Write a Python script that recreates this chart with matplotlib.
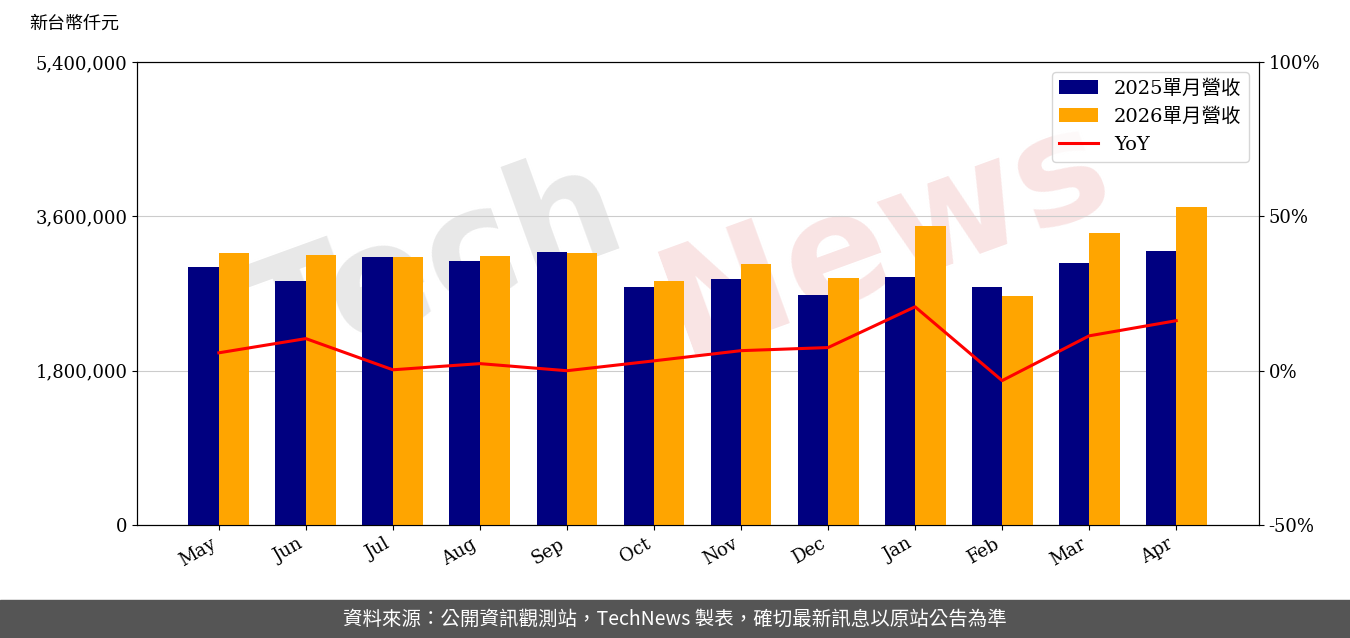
import numpy as np
import matplotlib.pyplot as plt

plt.rcParams['font.family'] = ['DejaVu Serif', 'Noto Sans CJK TC']

months = ['May', 'Jun', 'Jul', 'Aug', 'Sep', 'Oct', 'Nov', 'Dec', 'Jan', 'Feb', 'Mar', 'Apr']
rev_2025 = [3009000, 2846000, 3126000, 3079000, 3184000, 2776000, 2869000, 2682000, 2892000, 2776000, 3056000, 3196000]
rev_2026 = [3172000, 3149000, 3126000, 3137000, 3172000, 2846000, 3044000, 2881000, 3487000, 2671000, 3406000, 3709000]
yoy = [5.8, 10.4, 0.3, 2.3, 0.0, 3.2, 6.5, 7.5, 20.7, -3.2, 11.3, 16.2]

fig = plt.figure(figsize=(13.5, 6.38), dpi=100)
ax = fig.add_axes([0.1015, 0.177, 0.831, 0.7258])
x = np.arange(len(months))
w = 0.35
# watermark behind the bars
ax.text(0.45, 0.55, 'Tech', transform=ax.transAxes, fontsize=110, color='#e8e8e8',
        rotation=20, ha='right', va='center', family='DejaVu Sans', weight='bold', zorder=1)
ax.text(0.45, 0.62, 'News', transform=ax.transAxes, fontsize=110, color='#f9e4e4',
        rotation=20, ha='left', va='center', family='DejaVu Sans', weight='bold', zorder=1)
b1 = ax.bar(x - w / 2, rev_2025, w, color='#000080', label='2025單月營收', zorder=3)
b2 = ax.bar(x + w / 2, rev_2026, w, color='#FFA500', label='2026單月營收', zorder=3)
ax.set_ylim(0, 5400000)
ax.set_yticks([0, 1800000, 3600000, 5400000])
ax.set_yticklabels(['0', '1,800,000', '3,600,000', '5,400,000'], fontsize=13)
ax.grid(axis='y', color='#cccccc', zorder=0)
ax.set_xticks(x)
ax.set_xticklabels(months, rotation=30, ha='right', fontsize=13)
ax.set_xlim(-0.94, 11.95)

ax2 = ax.twinx()
l, = ax2.plot(x, yoy, color='red', lw=2.2, label='YoY', zorder=4)
ax2.set_ylim(-50, 100)
ax2.set_yticks([-50, 0, 50, 100])
ax2.set_yticklabels(['-50%', '0%', '50%', '100%'], fontsize=13)

ax2.legend([b1, b2, l], ['2025單月營收', '2026單月營收', 'YoY'], loc='upper right',
           prop={'family': ['DejaVu Serif', 'Noto Sans CJK TC'], 'size': 14})

fig.text(0.022, 0.955, '新台幣仟元', fontsize=13, family='Noto Sans CJK TC')
fig.patches.append(plt.Rectangle((0, 0), 1, 0.06, transform=fig.transFigure, color='#555555'))
fig.text(0.5, 0.03, '資料來源：公開資訊觀測站，TechNews 製表，確切最新訊息以原站公告為準',
         color='white', fontsize=14, ha='center', va='center', family='Noto Sans CJK TC')

fig.savefig('out.png', dpi=100)
